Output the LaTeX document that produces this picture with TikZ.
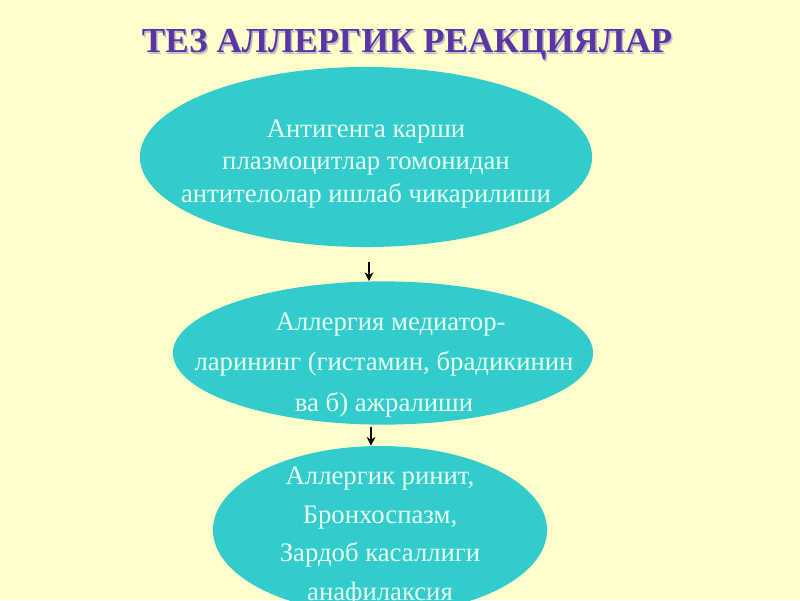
\documentclass[tikz,border=0pt]{standalone}
\usepackage{fontspec}
\setmainfont{Liberation Serif}
\usetikzlibrary{shapes.geometric,positioning,arrows.meta}
\definecolor{paper}{HTML}{FFFFCC}
\definecolor{bubblecol}{HTML}{33CCCC}
\definecolor{titlecol}{HTML}{5B34A6}
\definecolor{inkcol}{HTML}{E6FFF2}
\tikzset{bubble/.style={ellipse,fill=bubblecol,draw=none,inner sep=0pt},
bubbletext/.style={text=inkcol,align=center,font=\fontsize{19}{23}\selectfont},
titletext/.style={font=\fontsize{25}{30}\selectfont\bfseries},
flowarrow/.style={-{Stealth[length=2.2mm,width=2.2mm]},thick,black}}

\begin{document}
\begin{tikzpicture}[x=0.025cm,y=-0.025cm]

% Page
\useasboundingbox (0,0) rectangle (800,600);
\clip (0,0) rectangle (800,600);
\fill[paper] (0,0) rectangle (800,600);

% Title
\node[titletext,text=black!25] at (408.5,46.5) {ТЕЗ АЛЛЕРГИК РЕАКЦИЯЛАР};
\node[titletext,text=titlecol] (title) at (407,45) {ТЕЗ АЛЛЕРГИК РЕАКЦИЯЛАР};

% Ellipses
\node[bubble,minimum width=11.3cm,minimum height=4.5cm] (e1) at (366,157) {};
\node[bubble,minimum width=10.5cm,minimum height=3.58cm] (e2) at (383,353) {};
\node[bubble,minimum width=8.35cm,minimum height=4.2cm] (e3) at (380,530) {};

% Texts
\node[bubbletext] (t1) at (366,164) {Антигенга карши\\плазмоцитлар томонидан\\антителолар ишлаб чикарилиши};
\node[bubbletext,font=\fontsize{19}{28.5}\selectfont] (t2) at (384,365) {\hspace*{0.5em}Аллергия медиатор-\\ларининг (гистамин, брадикинин\\ва б) ажралиши};
\node[bubbletext,font=\fontsize{19}{27.5}\selectfont,anchor=north] (t3) at (380,462) {Аллергик ринит,\\Бронхоспазм,\\Зардоб касаллиги\\анафилаксия};

% Arrows
\coordinate (a1) at (369,262);
\coordinate (a2) at (371,427);
\draw[flowarrow] (a1) -- (a1 |- e2.north);
\draw[flowarrow] (a2) -- (a2 |- e3.north);

\end{tikzpicture}
\end{document}
